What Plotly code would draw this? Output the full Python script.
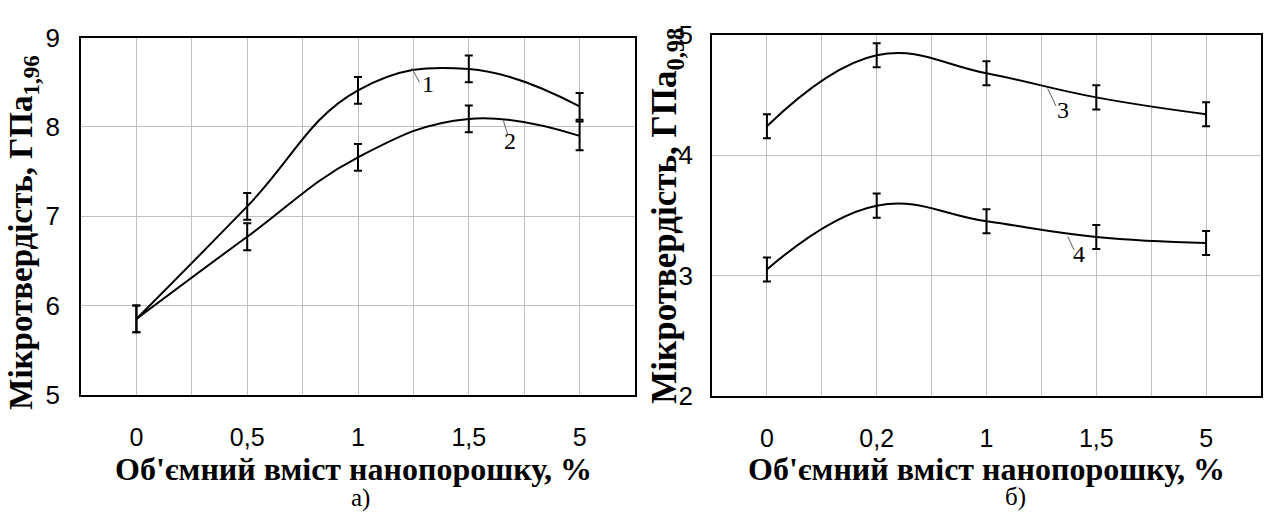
import plotly.graph_objects as go

# ---------------- data ----------------
cats_a = ["0", "0,5", "1", "1,5", "5"]
curve1 = [5.85, 7.11, 8.41, 8.65, 8.23]
curve2 = [5.85, 6.77, 7.66, 8.09, 7.90]
err1 = [0.15, 0.15, 0.15, 0.15, 0.15]
err2 = [0.15, 0.15, 0.15, 0.15, 0.16]

cats_b = ["0", "0,2", "1", "1,5", "5"]
curve3 = [4.24, 4.83, 4.68, 4.48, 4.34]
curve4 = [3.05, 3.58, 3.45, 3.32, 3.27]
err3 = [0.10, 0.10, 0.10, 0.10, 0.10]
err4 = [0.10, 0.10, 0.10, 0.10, 0.10]

yticks_a = [5, 6, 7, 8, 9]
yticks_b = [2, 3, 4, 5]

# curve number labels: (text, x index position, y value)
labels_a = [("1", 2.635, 8.41), ("2", 3.375, 7.78)]
labels_b = [("3", 2.70, 4.33), ("4", 2.84, 3.14)]
# leader lines: (x index, y value at curve, tail dx px, tail dy px)
leaders_a = [(2.482, 8.662, 9, 16), (3.312, 8.071, 5, 16)]
leaders_b = [(2.557, 4.554, 9, 19), (2.740, 3.324, 7, 15)]

x_title = "Об'ємний вміст нанопорошку, %"

SERIF = "Liberation Serif, Times New Roman, serif"
SANS = "Liberation Sans, Arial, sans-serif"

fig = go.Figure()

def add_curve(xcats, vals, errs, xa, ya):
    idx = list(range(len(xcats)))
    fig.add_trace(go.Scatter(
        x=idx, y=vals, mode="lines",
        line=dict(color="black", width=2, shape="spline", smoothing=1.2),
        error_y=dict(type="data", array=errs, visible=True,
                     color="black", thickness=2, width=4),
        xaxis=xa, yaxis=ya, showlegend=False, hoverinfo="skip"))

add_curve(cats_a, curve1, err1, "x", "y")
add_curve(cats_a, curve2, err2, "x", "y")
add_curve(cats_b, curve3, err3, "x2", "y2")
add_curve(cats_b, curve4, err4, "x2", "y2")

W, H = 1265, 522

def xaxis_cfg(cats, dom):
    n = len(cats)
    return dict(domain=dom, range=[-0.5, n - 0.5],
                tickmode="array", tickvals=list(range(n)), ticktext=cats,
                showgrid=True, gridcolor="#c0c0c0", gridwidth=1,
                minor=dict(tickvals=[i + 0.5 for i in range(n - 1)],
                           showgrid=True, gridcolor="#c0c0c0", gridwidth=1, ticks=""),
                showline=True, linecolor="black", linewidth=1.5, mirror=True,
                ticks="", ticklabelstandoff=19,
                tickfont=dict(family=SANS, size=25, color="black"),
                zeroline=False, fixedrange=True)

def yaxis_cfg(ticks, dom, standoff):
    return dict(domain=dom, range=[ticks[0], ticks[-1]],
                tickmode="array", tickvals=ticks, ticktext=[str(t) for t in ticks],
                showgrid=True, gridcolor="#c0c0c0", gridwidth=1,
                showline=True, linecolor="black", linewidth=1.5, mirror=True,
                ticks="", ticklabelstandoff=standoff,
                tickfont=dict(family=SANS, size=26, color="black"),
                zeroline=False, fixedrange=True)

fig.update_layout(
    width=W, height=H,
    margin=dict(l=0, r=0, t=0, b=0),
    paper_bgcolor="white", plot_bgcolor="white",
    xaxis=xaxis_cfg(cats_a, [81 / W, 635 / W]),
    yaxis=yaxis_cfg(yticks_a, [1 - 403 / H, 1 - 24 / H], 14),
    xaxis2=xaxis_cfg(cats_b, [712 / W, 1261 / W]),
    yaxis2=yaxis_cfg(yticks_b, [1 - 404 / H, 1 - 21 / H], 12),
)
fig.update_layout(xaxis2=dict(anchor="y2"), yaxis2=dict(anchor="x2"))

annotations = []
for (lab, xi, yv), (lx, ly, ax, ay) in zip(labels_a, leaders_a):
    annotations.append(dict(x=xi, y=yv, xref="x", yref="y", text=lab, showarrow=False,
                            yshift=6, font=dict(family=SERIF, size=24, color="black")))
    annotations.append(dict(x=lx, y=ly, xref="x", yref="y", text="",
                            showarrow=True, arrowhead=0, arrowwidth=1, arrowcolor="#606060",
                            ax=ax, ay=ay, standoff=0))
for (lab, xi, yv), (lx, ly, ax, ay) in zip(labels_b, leaders_b):
    annotations.append(dict(x=xi, y=yv, xref="x2", yref="y2", text=lab, showarrow=False,
                            yshift=5, font=dict(family=SERIF, size=24, color="black")))
    annotations.append(dict(x=lx, y=ly, xref="x2", yref="y2", text="",
                            showarrow=True, arrowhead=0, arrowwidth=1, arrowcolor="#606060",
                            ax=ax, ay=ay, standoff=0))

# axis titles
for cx in (353, 986):
    annotations.append(dict(x=cx / W, y=1 - 482 / H, xref="paper", yref="paper",
                            text="<b>" + x_title + "</b>", showarrow=False,
                            xanchor="center", yanchor="middle",
                            font=dict(family=SERIF, size=32, color="black")))
annotations.append(dict(x=24 / W, y=1 - 231 / H, xref="paper", yref="paper",
                        text="<b>Мікротвердість, ГПа<sub>1,96</sub></b>", showarrow=False,
                        textangle=-90, xanchor="center", yanchor="middle",
                        font=dict(family=SERIF, size=33, color="black")))
annotations.append(dict(x=667 / W, y=1 - 213 / H, xref="paper", yref="paper",
                        text="<b>Мікротвердість, ГПа<sub>0,98</sub></b>", showarrow=False,
                        textangle=-90, xanchor="center", yanchor="middle",
                        font=dict(family=SERIF, size=35, color="black")))
# panel labels
annotations.append(dict(x=360 / W, y=1 - 512 / H, xref="paper", yref="paper",
                        text="а)", showarrow=False, xanchor="center", yanchor="middle",
                        font=dict(family=SERIF, size=25, color="black")))
annotations.append(dict(x=1015 / W, y=1 - 511 / H, xref="paper", yref="paper",
                        text="б)", showarrow=False, xanchor="center", yanchor="middle",
                        font=dict(family=SERIF, size=25, color="black")))

fig.update_layout(annotations=annotations)

fig.write_html("out.html", include_plotlyjs=True, config={"displayModeBar": False})
